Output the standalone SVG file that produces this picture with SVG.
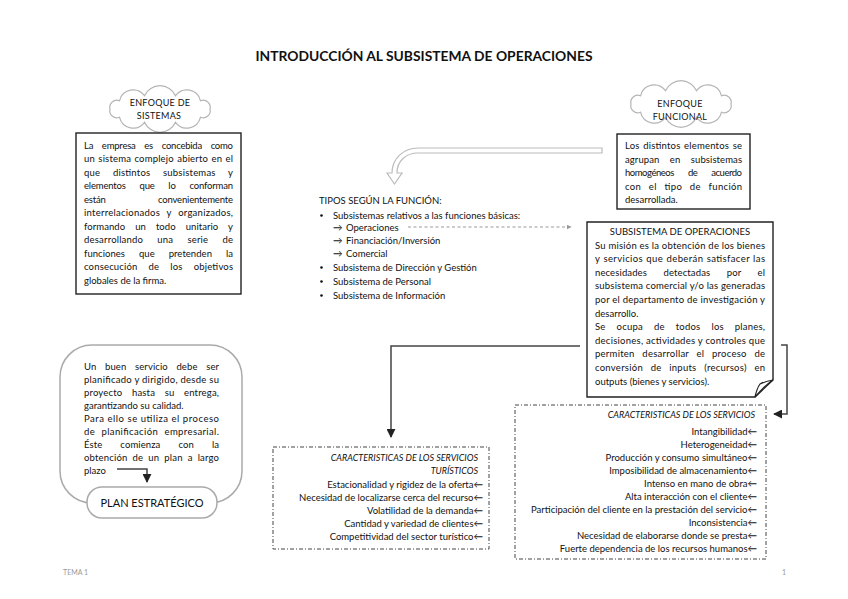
<svg xmlns="http://www.w3.org/2000/svg" width="848" height="599" viewBox="0 0 848 599">
<style>
.t{font-family:Lato,'Liberation Sans',sans-serif;font-size:9.5px;fill:#111}
.it{font-family:Lato,'Liberation Sans',sans-serif;font-size:9px;font-style:italic;fill:#111}
.ct{font-family:Lato,'Liberation Sans',sans-serif;font-size:9px;fill:#111;letter-spacing:0.3px}
.box{fill:#fff;stroke:#222;stroke-width:1.4}
.dd{fill:none;stroke:#444;stroke-width:1;stroke-dasharray:4 2 1 2}
.conn{fill:none;stroke:#444;stroke-width:1.5}
.cloud{fill:#fff;stroke:#b5b5b5;stroke-width:1.2}
.foot{font-family:Lato,'Liberation Sans',sans-serif;font-size:7px;fill:#999}
</style>
<defs>
<marker id="ah" viewBox="0 0 10 10" refX="9" refY="5" markerWidth="6" markerHeight="6" orient="auto"><path d="M0,0 L10,5 L0,10 Z" fill="#222"/></marker>
<marker id="ahg" viewBox="0 0 10 10" refX="9" refY="5" markerWidth="5" markerHeight="5" orient="auto"><path d="M0,0 L10,5 L0,10 Z" fill="#999"/></marker>
<path id="cloudShape" d="M50,0 A7,7 0 0 1 40.5,8.2 A14,14 0 0 1 15.5,13.3 A17,17 0 0 1 -15.5,13.3 A14,14 0 0 1 -40.5,8.2 A7,7 0 0 1 -50,0 A7,7 0 0 1 -40.5,-8.2 A14,14 0 0 1 -15.5,-13.3 A17,17 0 0 1 15.5,-13.3 A14,14 0 0 1 40.5,-8.2 A7,7 0 0 1 50,0 Z"/>
</defs>
<rect width="848" height="599" fill="#fff"/>

<text x="424" y="61" text-anchor="middle" textLength="337" lengthAdjust="spacingAndGlyphs" style="font-family:Lato,'Liberation Sans',sans-serif;font-size:14px;font-weight:bold;fill:#111">INTRODUCCIÓN AL SUBSISTEMA DE OPERACIONES</text>

<g id="cloud-sistemas">
<use href="#cloudShape" class="cloud" transform="translate(160,109)"/>
<text class="ct" x="160" y="106" text-anchor="middle">ENFOQUE DE</text>
<text class="ct" x="159" y="119" text-anchor="middle">SISTEMAS</text>
</g>

<g id="box-sistemas">
<rect class="box" x="76" y="133" width="165" height="161"/>
<text class="t" x="84" y="148.5" word-spacing="6.5" textLength="149" lengthAdjust="spacing">La empresa es concebida como</text>
<text class="t" x="84" y="162" word-spacing="0.8" textLength="149" lengthAdjust="spacing">un sistema complejo abierto en el</text>
<text class="t" x="84" y="175.5" word-spacing="10" textLength="149" lengthAdjust="spacing">que distintos subsistemas y</text>
<text class="t" x="84" y="189" word-spacing="11.5" textLength="149" lengthAdjust="spacing">elementos que lo conforman</text>
<text class="t" x="84" y="202.5" word-spacing="50" textLength="149" lengthAdjust="spacing">están convenientemente</text>
<text class="t" x="84" y="216" word-spacing="4" textLength="149" lengthAdjust="spacing">interrelacionados y organizados,</text>
<text class="t" x="84" y="229.5" word-spacing="7.5" textLength="149" lengthAdjust="spacing">formando un todo unitario y</text>
<text class="t" x="84" y="243" word-spacing="11.5" textLength="149" lengthAdjust="spacing">desarrollando una serie de</text>
<text class="t" x="84" y="256.5" word-spacing="11.5" textLength="149" lengthAdjust="spacing">funciones que pretenden la</text>
<text class="t" x="84" y="270" word-spacing="8.5" textLength="149" lengthAdjust="spacing">consecución de los objetivos</text>
<text class="t" x="84" y="283.5">globales de la firma.</text>
</g>

<g id="cloud-funcional">
<use href="#cloudShape" class="cloud" transform="translate(681,104)"/>
<text class="ct" x="680" y="107" text-anchor="middle">ENFOQUE</text>
<text class="ct" x="680" y="120" text-anchor="middle">FUNCIONAL</text>
</g>

<g id="box-funcional">
<rect class="box" x="617" y="134" width="133" height="75"/>
<text class="t" x="625" y="149" word-spacing="1" textLength="117" lengthAdjust="spacing">Los distintos elementos se</text>
<text class="t" x="625" y="162.5" word-spacing="8" textLength="117" lengthAdjust="spacing">agrupan en subsistemas</text>
<text class="t" x="625" y="176" word-spacing="12" textLength="117" lengthAdjust="spacing">homogéneos de acuerdo</text>
<text class="t" x="625" y="189.5" word-spacing="5" textLength="117" lengthAdjust="spacing">con el tipo de función</text>
<text class="t" x="625" y="203">desarrollada.</text>
</g>

<g id="tipos">
<text class="t" x="319" y="204">TIPOS SEGÚN LA FUNCIÓN:</text>
<circle cx="321.5" cy="215.5" r="1.3" fill="#111"/>
<text class="t" x="333" y="218.5">Subsistemas relativos a las funciones básicas:</text>
<text class="t" x="333" y="230.5">→</text><text class="t" x="346" y="230.5">Operaciones</text>
<text class="t" x="333" y="243.5">→</text><text class="t" x="346" y="243.5">Financiación/Inversión</text>
<text class="t" x="333" y="257">→</text><text class="t" x="346" y="257">Comercial</text>
<circle cx="321.5" cy="267.5" r="1.3" fill="#111"/>
<text class="t" x="333" y="270.5">Subsistema de Dirección y Gestión</text>
<circle cx="321.5" cy="281.5" r="1.3" fill="#111"/>
<text class="t" x="333" y="284.5">Subsistema de Personal</text>
<circle cx="321.5" cy="295.5" r="1.3" fill="#111"/>
<text class="t" x="333" y="298.5">Subsistema de Información</text>
</g>

<g id="subsistema-operaciones">
<path class="box" d="M587,222 H773 V380 L755,397 H587 Z"/>
<path d="M755,397 Q757,388 760,384 Q766,381 773,380 Q764,386 755,397 Z" fill="#fff" stroke="#222" stroke-width="1.2"/>
<text class="t" x="680" y="234.5" text-anchor="middle">SUBSISTEMA DE OPERACIONES</text>
<text class="t" x="595" y="248.5" textLength="170" lengthAdjust="spacing">Su misión es la obtención de los bienes</text>
<text class="t" x="595" y="262.1" word-spacing="0.5" textLength="170" lengthAdjust="spacing">y servicios que deberán satisfacer las</text>
<text class="t" x="595" y="275.7" word-spacing="14" textLength="170" lengthAdjust="spacing">necesidades detectadas por el</text>
<text class="t" x="595" y="289.3" textLength="170" lengthAdjust="spacing">subsistema comercial y/o las generadas</text>
<text class="t" x="595" y="302.9" textLength="170" lengthAdjust="spacing">por el departamento de investigación y</text>
<text class="t" x="595" y="316.5">desarrollo.</text>
<text class="t" x="595" y="330.1" word-spacing="8.4" textLength="170" lengthAdjust="spacing">Se ocupa de todos los planes,</text>
<text class="t" x="595" y="343.7" textLength="170" lengthAdjust="spacing">decisiones, actividades y controles que</text>
<text class="t" x="595" y="357.3" word-spacing="5" textLength="170" lengthAdjust="spacing">permiten desarrollar el proceso de</text>
<text class="t" x="595" y="370.9" word-spacing="5" textLength="170" lengthAdjust="spacing">conversión de inputs (recursos) en</text>
<text class="t" x="595" y="384.5">outputs (bienes y servicios).</text>
</g>

<g id="planificacion">
<rect x="60" y="345" width="182" height="158" rx="32" fill="#fff" stroke="#aaa" stroke-width="1.5"/>
<text class="t" x="84" y="369.5" word-spacing="6" textLength="135" lengthAdjust="spacing">Un buen servicio debe ser</text>
<text class="t" x="84" y="382.6" textLength="135" lengthAdjust="spacing">planificado y dirigido, desde su</text>
<text class="t" x="84" y="395.7" word-spacing="7" textLength="135" lengthAdjust="spacing">proyecto hasta su entrega,</text>
<text class="t" x="84" y="408.8">garantizando su calidad.</text>
<text class="t" x="84" y="421.9" textLength="135" lengthAdjust="spacing">Para ello se utiliza el proceso</text>
<text class="t" x="84" y="435" word-spacing="3.5" textLength="135" lengthAdjust="spacing">de planificación empresarial.</text>
<text class="t" x="84" y="448.1" word-spacing="15.5" textLength="135" lengthAdjust="spacing">Éste comienza con la</text>
<text class="t" x="84" y="461.2" word-spacing="2.4" textLength="135" lengthAdjust="spacing">obtención de un plan a largo</text>
<text class="t" x="84" y="474.3">plazo</text>
</g>

<g id="plan-estrategico">
<rect x="87" y="487" width="130" height="31" rx="15" fill="#fff" stroke="#aaa" stroke-width="1.5"/>
<text x="152" y="507" text-anchor="middle" style="font-family:Lato,'Liberation Sans',sans-serif;font-size:11px;fill:#111">PLAN ESTRATÉGICO</text>
</g>

<g id="servicios-turisticos">
<rect class="dd" x="273" y="447" width="216" height="102"/>
<text class="it" x="478" y="460.5" text-anchor="end">CARACTERISTICAS DE LOS SERVICIOS</text>
<text class="it" x="478" y="473.5" text-anchor="end">TURÍSTICOS</text>
<text class="t" x="483" y="487.5" text-anchor="end">Estacionalidad y rigidez de la oferta←</text>
<text class="t" x="483" y="500.5" text-anchor="end">Necesidad de localizarse cerca del recurso←</text>
<text class="t" x="483" y="513.5" text-anchor="end">Volatilidad de la demanda←</text>
<text class="t" x="483" y="526.5" text-anchor="end">Cantidad y variedad de clientes←</text>
<text class="t" x="483" y="539.5" text-anchor="end">Competitividad del sector turístico←</text>
</g>

<g id="servicios">
<rect class="dd" x="515" y="405" width="251" height="154"/>
<text class="it" x="755" y="418" text-anchor="end">CARACTERISTICAS DE LOS SERVICIOS</text>
<text class="t" x="757" y="434.5" text-anchor="end">Intangibilidad←</text>
<text class="t" x="757" y="447.5" text-anchor="end">Heterogeneidad←</text>
<text class="t" x="757" y="460.5" text-anchor="end">Producción y consumo simultáneo←</text>
<text class="t" x="757" y="473.5" text-anchor="end">Imposibilidad de almacenamiento←</text>
<text class="t" x="757" y="486.5" text-anchor="end">Intenso en mano de obra←</text>
<text class="t" x="757" y="499.5" text-anchor="end">Alta interacción con el cliente←</text>
<text class="t" x="757" y="512.5" text-anchor="end">Participación del cliente en la prestación del servicio←</text>
<text class="t" x="757" y="525.5" text-anchor="end">Inconsistencia←</text>
<text class="t" x="757" y="538.5" text-anchor="end">Necesidad de elaborarse donde se presta←</text>
<text class="t" x="757" y="551.5" text-anchor="end">Fuerte dependencia de los recursos humanos←</text>
</g>

<g id="connectors">
<path d="M602,148 L418,148 C404,148 392,158 392,173 L387,173 L394.5,184 L402,173 L397,173 C397,161 406,153 418,153 L602,153 Z" fill="#fff" stroke="#bbb" stroke-width="1.2"/>
<line x1="408" y1="227" x2="571" y2="227" stroke="#999" stroke-width="1" stroke-dasharray="3 2.5" marker-end="url(#ahg)"/>
<path class="conn" d="M580,346 H391 V437" marker-end="url(#ah)"/>
<path class="conn" d="M781,345 H787 V414 H774" marker-end="url(#ah)"/>
<path class="conn" d="M117,469 H147 V482" marker-end="url(#ah)"/>
</g>

<text class="foot" x="63" y="575">TEMA 1</text>
<text class="foot" x="782" y="575">1</text>
</svg>
